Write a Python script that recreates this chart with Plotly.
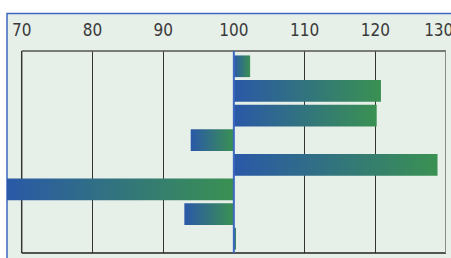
import plotly.graph_objects as go

categories = ["A", "B", "C", "D", "E", "F", "G", "H"]
values = [102.3, 120.8, 120.2, 93.9, 128.8, 67.5, 93.0, 100.3]
base_value = 100
tick_values = [70, 80, 90, 100, 110, 120, 130]
tick_labels = ["70", "80", "90", "100", "110", "120", "130\u00a0\u00a0\u00a0"]

BLUE = "#2a58a8"
GREEN = "#3a9152"
BG = "#e6efe8"
half = 0.44

fig = go.Figure()
for i, (cat, v) in enumerate(zip(categories, values)):
    lo, hi = min(v, base_value), max(v, base_value)
    fig.add_trace(go.Scatter(
        x=[lo, hi, hi, lo, lo],
        y=[i - half, i - half, i + half, i + half, i - half],
        mode="lines", line=dict(width=0),
        fill="toself",
        fillgradient=dict(type="horizontal", colorscale=[[0, BLUE], [1, GREEN]]),
        name=cat, hoverinfo="text", text=f"{cat}: {v}",
        showlegend=False,
    ))

shapes = [
    # outer panel
    dict(type="rect", xref="paper", yref="paper", x0=0, x1=1.03, y0=-0.05, y1=1.186,
         fillcolor=BG, line=dict(color="#3d68c0", width=1.5), layer="below"),
    # frame top / bottom
    dict(type="line", xref="x", yref="paper", x0=70, x1=130, y0=1, y1=1,
         line=dict(color="#555555", width=1.5)),
    dict(type="line", xref="x", yref="paper", x0=70, x1=130, y0=0, y1=0,
         line=dict(color="#222222", width=1.5)),
    dict(type="line", xref="x", yref="paper", x0=70, x1=70, y0=0, y1=1,
         line=dict(color="#444444", width=1.5), layer="below"),
    dict(type="line", xref="x", yref="paper", x0=130, x1=130, y0=0, y1=1,
         line=dict(color="#8a8a8a", width=2)),
    # baseline at 100
    dict(type="line", xref="x", yref="paper", x0=base_value, x1=base_value, y0=0, y1=1,
         line=dict(color="#3d68c0", width=2)),
]

fig.update_layout(
    width=451, height=258,
    margin=dict(l=7, r=5, t=51, b=5, autoexpand=False),
    paper_bgcolor="white",
    plot_bgcolor=BG,
    shapes=shapes,
    xaxis=dict(
        range=[67.92, 130], side="top",
        tickvals=tick_values, ticktext=tick_labels,
        showgrid=True, gridcolor="#333333", gridwidth=1.3,
        zeroline=False, showline=False, ticks="",
        tickfont=dict(family="DejaVu Sans Condensed, DejaVu Sans", size=17,
                      color="#3a3a3a", weight=300),
        ticklabelstandoff=11,
        ticklabeloverflow="allow",
        automargin=False,
        fixedrange=True,
    ),
    yaxis=dict(
        range=[7.58, -0.62], showgrid=False, zeroline=False,
        showticklabels=False, ticks="", fixedrange=True,
        automargin=False,
    ),
)

fig.write_html("out.html", config={"displayModeBar": False},
               post_script="document.body.style.margin='0';")
